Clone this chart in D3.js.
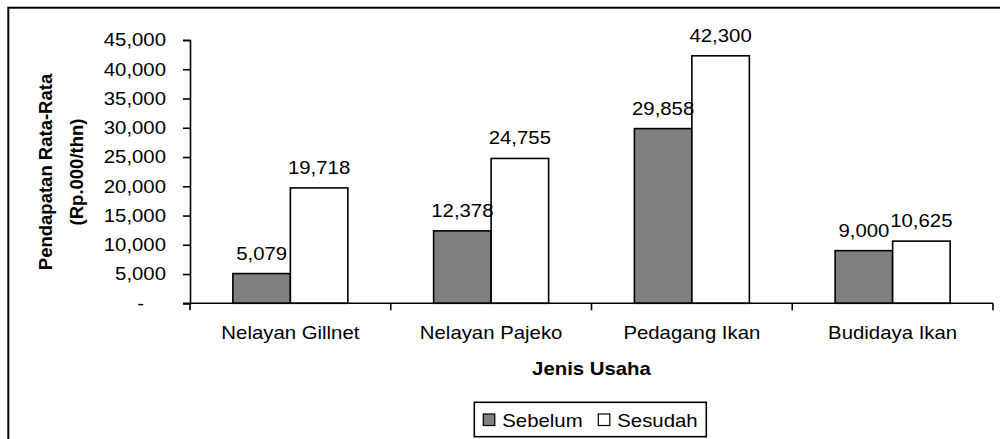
<!DOCTYPE html>
<html>
<head>
<meta charset="utf-8">
<script src="https://cdn.jsdelivr.net/npm/d3@7"></script>
<style>
  body { margin: 0; background: #fff; }
  svg { display: block; font-family: "Liberation Sans", Arial, sans-serif; }
</style>
</head>
<body>
<div id="chart"></div>
<script>
// data
const categories = ['Nelayan Gillnet', 'Nelayan Pajeko', 'Pedagang Ikan', 'Budidaya Ikan']
const series = ['Sebelum', 'Sesudah']
const sebelum = [5079, 12378, 29858, 9000]
const sesudah = [19718, 24755, 42300, 10625]
const yTicks = [0, 5000, 10000, 15000, 20000, 25000, 30000, 35000, 40000, 45000]
const fills = ['#808080', '#ffffff']

const W = 1000, H = 439
const stretch = 1.1   // the picture is a bit wider than it is tall
const fontSize = 18.5

const svg = d3.select('#chart').append('svg')
	.attr('width', W)
	.attr('height', H)

// outer frame, runs off the right and bottom edge
svg.append('rect')
	.attr('x', 8.3).attr('y', 7.7)
	.attr('width', W + 20).attr('height', H + 20)
	.attr('fill', 'none')
	.attr('stroke', '#000')
	.attr('stroke-width', 2)

const x0 = d3.scaleBand()
	.domain(categories)
	.range([190, 993])
	.padding(0)

const x1 = d3.scaleBand()
	.domain(series)
	.range([0, x0.bandwidth()])
	.paddingInner(0)
	.paddingOuter(0.746)

const y = d3.scaleLinear()
	.domain([0, 45000])
	.range([303.3, 40])

const fmt = d3.format(',')

// y axis
const yAxis = svg.append('g')
	.attr('transform', 'translate(190,0)')
	.call(d3.axisLeft(y)
		.tickValues(yTicks)
		.tickSize(7)
		.tickPadding(17)
		.tickFormat(d => d === 0 ? '-' : fmt(d)))
yAxis.select('.domain').attr('stroke', '#000').attr('stroke-width', 1.6)
yAxis.selectAll('.tick line').attr('stroke', '#000').attr('stroke-width', 1.6)
yAxis.selectAll('.tick text')
	.attr('font-size', fontSize)
	.attr('fill', '#000')
	.attr('font-family', '"Liberation Sans", Arial, sans-serif')
yAxis.selectAll('.tick').filter(d => d === 0).select('text').attr('dx', -22)

// bars
const rows = categories.map((c, i) => ({ cat: c, vals: [sebelum[i], sesudah[i]] }))
const groups = svg.selectAll('g.grp')
	.data(rows)
	.join('g')
	.attr('class', 'grp')
	.attr('transform', d => 'translate(' + x0(d.cat) + ',0)')

groups.selectAll('rect')
	.data(d => d.vals.map((v, j) => ({ s: series[j], v: v, j: j })))
	.join('rect')
	.attr('x', d => x1(d.s))
	.attr('y', d => y(d.v))
	.attr('width', x1.bandwidth())
	.attr('height', d => y(0) - y(d.v))
	.attr('fill', d => fills[d.j])
	.attr('stroke', '#000')
	.attr('stroke-width', 1.6)

groups.selectAll('text.val')
	.data(d => d.vals.map((v, j) => ({ s: series[j], v: v })))
	.join('text')
	.attr('class', 'val stretch')
	.attr('x', d => x1(d.s) + x1.bandwidth() / 2)
	.attr('y', d => y(d.v) - 14)
	.attr('text-anchor', 'middle')
	.attr('font-size', fontSize)
	.text(d => fmt(d.v))

// x axis
const xAxis = svg.append('g')
	.attr('transform', 'translate(0,' + y(0) + ')')
	.call(d3.axisBottom(x0).tickSize(0).tickPadding(0))
xAxis.select('.domain').remove()
xAxis.selectAll('.tick text').remove()
xAxis.append('line')
	.attr('x1', 183).attr('x2', 993)
	.attr('stroke', '#000').attr('stroke-width', 1.6)
xAxis.selectAll('line.sep')
	.data(categories.map(c => x0(c)).concat([x0.range()[1]]))
	.join('line')
	.attr('class', 'sep')
	.attr('x1', d => d).attr('x2', d => d)
	.attr('y1', 0).attr('y2', 7)
	.attr('stroke', '#000').attr('stroke-width', 1.6)

svg.selectAll('text.cat')
	.data(categories)
	.join('text')
	.attr('class', 'cat stretch')
	.attr('x', d => x0(d) + x0.bandwidth() / 2)
	.attr('y', 339)
	.attr('text-anchor', 'middle')
	.attr('font-size', fontSize)
	.text(d => d)

// axis titles
svg.append('text')
	.attr('class', 'stretch')
	.attr('x', (x0.range()[0] + x0.range()[1]) / 2)
	.attr('y', 375)
	.attr('text-anchor', 'middle')
	.attr('font-size', fontSize)
	.attr('font-weight', 'bold')
	.text('Jenis Usaha')

const yTitle = svg.append('text')
	.attr('transform', 'translate(52,172) rotate(-90)')
	.attr('text-anchor', 'middle')
	.attr('font-size', fontSize)
	.attr('font-weight', 'bold')
yTitle.append('tspan').attr('x', 0).attr('dy', 0).text('Pendapatan Rata-Rata')
yTitle.append('tspan').attr('x', 0).attr('dy', 31).text('(Rp.000/thn)')

// legend
const legend = svg.append('g').attr('transform', 'translate(474.3,402.3)')
legend.append('rect')
	.attr('width', 232).attr('height', 34.4)
	.attr('fill', '#fff')
	.attr('stroke', '#000').attr('stroke-width', 1.6)
const legendX = [9, 124]
const items = legend.selectAll('g.item')
	.data(series)
	.join('g')
	.attr('class', 'item')
	.attr('transform', (d, i) => 'translate(' + legendX[i] + ',0)')
items.append('rect')
	.attr('y', 11.7)
	.attr('width', 11.5).attr('height', 11.5)
	.attr('fill', (d, i) => fills[i])
	.attr('stroke', '#000').attr('stroke-width', 1.2)
items.append('text')
	.attr('class', 'stretch')
	.attr('x', 19)
	.attr('y', 24.4)
	.attr('font-size', fontSize)
	.text(d => d)

// widen horizontal texts a little, like the picture
svg.selectAll('text.stretch, .tick text').each(function() {
	const len = this.getComputedTextLength()
	d3.select(this)
		.attr('textLength', len * stretch)
		.attr('lengthAdjust', 'spacingAndGlyphs')
})
</script>
</body>
</html>
